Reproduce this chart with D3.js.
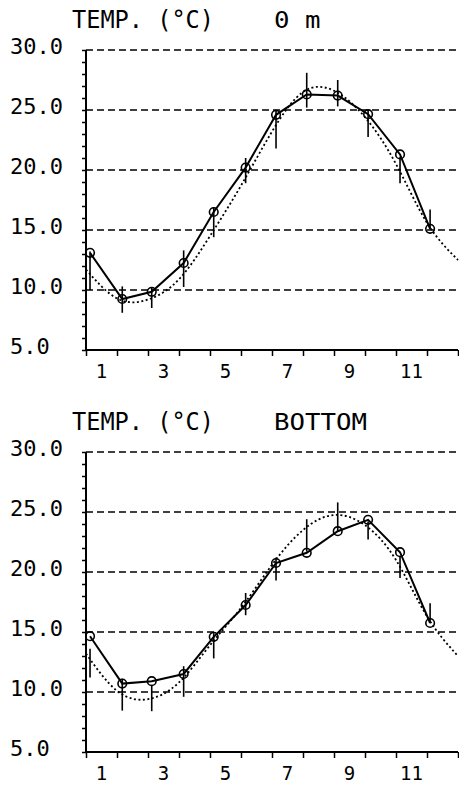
<!DOCTYPE html>
<html>
<head>
<meta charset="utf-8" />
<title>Temperature 0 m and bottom</title>
<script src="https://d3js.org/d3.v7.min.js"></script>
<style>
  body, html {
    margin: 0;
    background: #ffffff;
  }
  svg text {
    font-family: 'DejaVu Sans Mono', monospace;
    fill: #000;
  }
</style>
</head>
<body>
<svg id="viz"></svg>

<script>

// month labels on the x axis (placed at month centres)
var monthLabels = [1, 3, 5, 7, 9, 11];
var yTicks = [5, 10, 15, 20, 25, 30];

// sampling position within the year (1.0 = start of January)
var sampleMonth = [1.13, 2.17, 3.12, 4.15, 5.12, 6.15, 7.13, 8.12, 9.12, 10.10, 11.13, 12.10];

// 0 m
var surfaceTemp = [13.1, 9.25, 9.85, 12.25, 16.5, 20.2, 24.6, 26.3, 26.2, 24.65, 21.3, 15.1];
var surfaceLow  = [10.0, 8.1, 8.5, 10.25, 14.4, 18.9, 21.8, 25.2, 25.3, 22.75, 18.9, 15.1];
var surfaceHigh = [13.2, 10.3, 10.25, 13.3, 16.9, 21.0, 25.0, 28.1, 27.5, 25.0, 21.1, 16.7];

// bottom
var bottomTemp = [14.65, 10.7, 10.9, 11.5, 14.6, 17.25, 20.75, 21.6, 23.4, 24.35, 21.65, 15.75];
var bottomLow  = [11.2, 8.45, 8.4, 9.6, 12.8, 16.4, 19.3, 21.7, 23.35, 22.7, 19.5, 15.8];
var bottomHigh = [13.6, 11.1, 10.6, 12.15, 14.9, 18.25, 21.2, 24.4, 25.8, 24.2, 21.25, 17.4];

// fitted curves, read at month boundaries
var fitMonth   = [1, 2, 3, 4, 5, 6, 7, 8, 9, 10, 11, 12, 13];
var surfaceFit = [11.7, 9.3, 9.2, 10.9, 14.5, 18.7, 23.2, 26.5, 26.6, 24.4, 20.5, 15.6, 12.5];
var bottomFit  = [13.2, 10.1, 9.4, 10.8, 13.9, 17.0, 20.6, 23.5, 24.75, 23.9, 21.0, 16.3, 13.0];

var svg = d3.select("#viz")
  .attr("width", 459)
  .attr("height", 786);

var xScale = d3.scaleLinear()
  .domain([1, 13])
  .range([86, 458]);

function drawPanel(top, label, temp, low, high, fit) {
  var yScale = d3.scaleLinear()
    .domain([5, 30])
    .range([top + 300, top]);

  var g = svg.append("g");

  // titles
  g.append("text")
    .attr("x", 72).attr("y", top - 22)
    .attr("font-size", 24)
    .attr("textLength", 142)
    .attr("lengthAdjust", "spacingAndGlyphs")
    .text("TEMP. (°C)");
  g.append("text")
    .attr("x", 274).attr("y", top - 22)
    .attr("font-size", 23)
    .attr("textLength", label.length * 15.5)
    .attr("lengthAdjust", "spacingAndGlyphs")
    .text(label);

  // dashed grid
  g.selectAll(".grid")
    .data(yTicks.filter(function(d) { return d > 5; }))
    .enter().append("line")
    .attr("x1", xScale(1)).attr("x2", xScale(13))
    .attr("y1", function(d) { return yScale(d); })
    .attr("y2", function(d) { return yScale(d); })
    .attr("stroke", "#000")
    .attr("stroke-width", 1.6)
    .attr("stroke-dasharray", "7,4");

  // y axis
  var yAxis = d3.axisLeft(yScale)
    .tickValues(d3.range(5, 31, 1))
    .tickSize(4)
    .tickFormat("");
  g.append("g")
    .attr("transform", "translate(" + xScale(1) + ",0)")
    .call(yAxis)
    .call(function(a) {
      a.select(".domain").attr("stroke-width", 2).attr("d", "M0," + yScale(30) + "V" + yScale(5));
      a.selectAll(".tick line").attr("stroke-width", 1.5);
    });

  g.selectAll(".ylab")
    .data(yTicks)
    .enter().append("text")
    .attr("x", 10)
    .attr("y", function(d) { return yScale(d) + 4; })
    .attr("font-size", 22)
    .text(function(d) { return d3.format(".1f")(d); });

  // x axis
  var xAxis = d3.axisBottom(xScale)
    .tickValues(d3.range(1, 14))
    .tickSize(6)
    .tickFormat("");
  g.append("g")
    .attr("transform", "translate(0," + yScale(5) + ")")
    .call(xAxis)
    .call(function(a) {
      a.select(".domain").attr("stroke-width", 2).attr("d", "M" + xScale(1) + ",0H" + xScale(13));
      a.selectAll(".tick line").attr("stroke-width", 1.5);
    });

  g.selectAll(".xlab")
    .data(monthLabels)
    .enter().append("text")
    .attr("x", function(d) { return xScale(d + 0.5); })
    .attr("y", yScale(5) + 28)
    .attr("text-anchor", "middle")
    .attr("font-size", 19)
    .text(function(d) { return d; });

  // fitted curve (dotted)
  var fitLine = d3.line()
    .x(function(d, i) { return xScale(fitMonth[i]); })
    .y(function(d) { return yScale(d); })
    .curve(d3.curveNatural);
  g.append("path")
    .datum(fit)
    .attr("d", fitLine)
    .attr("fill", "none")
    .attr("stroke", "#000")
    .attr("stroke-width", 1.8)
    .attr("stroke-dasharray", "2,2.5");

  // range bars
  g.selectAll(".bar")
    .data(temp)
    .enter().append("line")
    .attr("x1", function(d, i) { return xScale(sampleMonth[i]); })
    .attr("x2", function(d, i) { return xScale(sampleMonth[i]); })
    .attr("y1", function(d, i) { return yScale(low[i]); })
    .attr("y2", function(d, i) { return yScale(high[i]); })
    .attr("stroke", "#000")
    .attr("stroke-width", 1.6);

  // observed line
  var obsLine = d3.line()
    .x(function(d, i) { return xScale(sampleMonth[i]); })
    .y(function(d) { return yScale(d); });
  g.append("path")
    .datum(temp)
    .attr("d", obsLine)
    .attr("fill", "none")
    .attr("stroke", "#000")
    .attr("stroke-width", 2);

  g.selectAll(".pt")
    .data(temp)
    .enter().append("circle")
    .attr("cx", function(d, i) { return xScale(sampleMonth[i]); })
    .attr("cy", function(d) { return yScale(d); })
    .attr("r", 4.3)
    .attr("fill", "none")
    .attr("stroke", "#000")
    .attr("stroke-width", 1.6);
}

drawPanel(50, "0 m", surfaceTemp, surfaceLow, surfaceHigh, surfaceFit);
drawPanel(452, "BOTTOM", bottomTemp, bottomLow, bottomHigh, bottomFit);

</script>
</body>
</html>
